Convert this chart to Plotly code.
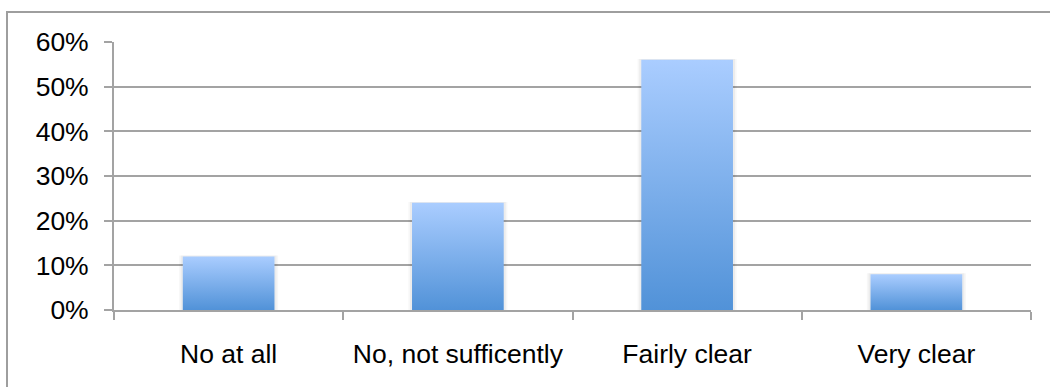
import plotly.graph_objects as go

# Survey answers and the share of respondents for each
categories = ["No at all", "No, not sufficently", "Fairly clear", "Very clear"]
shares = [0.12, 0.24, 0.56, 0.08]
y_ticks = [0.0, 0.1, 0.2, 0.3, 0.4, 0.5, 0.6]
y_tick_text = ["0%", "10%", "20%", "30%", "40%", "50%", "60%"]

W, H = 1050, 387
M_L, M_R, M_T, M_B = 114, 19, 42, 77
BAR_W = 0.40
TOP_COLOR = "#aacdff"
BOTTOM_COLOR = "#5192d8"
GRID = "#a3a3a3"
FONT = "Liberation Sans, Arial, Helvetica, sans-serif"

fig = go.Figure()

for i, (cat, v) in enumerate(zip(categories, shares)):
    # soft shadow around each bar
    for pad, alpha in [(0.016, 0.03), (0.009, 0.045)]:
        x0, x1 = i - BAR_W / 2 - pad, i + BAR_W / 2 + pad
        fig.add_trace(go.Scatter(
            x=[x0, x0, x1, x1, x0], y=[0, v + 0.002, v + 0.002, 0, 0],
            mode="lines", fill="toself", line=dict(width=0),
            fillcolor=f"rgba(0,0,0,{alpha})", hoverinfo="skip", showlegend=False,
        ))
    # bar body with a vertical gradient
    x0, x1 = i - BAR_W / 2, i + BAR_W / 2
    fig.add_trace(go.Scatter(
        x=[x0, x0, x1, x1, x0], y=[0, v, v, 0, 0],
        mode="lines", fill="toself", line=dict(width=0),
        fillgradient=dict(type="vertical",
                          colorscale=[[0, BOTTOM_COLOR], [1, TOP_COLOR]]),
        name=cat, hoverinfo="text", text=f"{cat}: {v:.0%}", showlegend=False,
    ))

n = len(categories)
boundaries = [k - 0.5 for k in range(n + 1)]

fig.update_xaxes(
    range=[-0.5, n - 0.5], tickmode="array",
    tickvals=list(range(n)), ticktext=categories,
    ticks="", ticklabelstandoff=19,
    showline=True, linecolor=GRID, linewidth=2,
    showgrid=False, zeroline=False,
    tickfont=dict(family=FONT, size=26.5, color="#000000"),
    minor=dict(tickmode="array", tickvals=boundaries, ticks="outside",
               ticklen=8, tickwidth=2, tickcolor=GRID, showgrid=False),
)
fig.update_yaxes(
    range=[0, 0.6], tickmode="array", tickvals=y_ticks, ticktext=y_tick_text,
    ticks="outside", ticklen=8, tickwidth=2, tickcolor=GRID,
    ticklabelstandoff=10,
    showline=True, linecolor=GRID, linewidth=2,
    showgrid=True, gridcolor=GRID, gridwidth=2, zeroline=False,
    tickfont=dict(family=FONT, size=26.5, color="#000000"),
)

# chart frame (runs past the right and bottom edges of the page)
pw, ph = W - M_L - M_R, H - M_T - M_B
fig.add_shape(
    type="rect", xref="paper", yref="paper", layer="below",
    x0=(7 - M_L) / pw, x1=(W + 20 - M_L) / pw,
    y0=-(H + 20 - M_T - ph) / ph, y1=(H - 12 - M_B) / ph,
    line=dict(color="#9e9e9e", width=2), fillcolor="rgba(0,0,0,0)",
)

fig.update_layout(
    width=W, height=H, autosize=False,
    margin=dict(l=M_L, r=M_R, t=M_T, b=M_B, pad=0),
    paper_bgcolor="white", plot_bgcolor="white",
    showlegend=False,
)

fig.write_html("out.html")
